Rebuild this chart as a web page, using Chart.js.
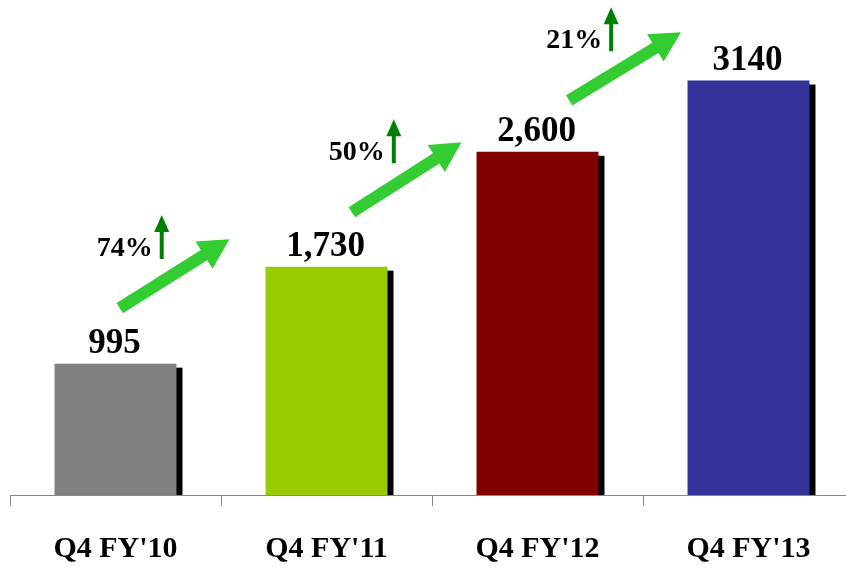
<!DOCTYPE html>
<html>
<head>
<meta charset="utf-8">
<script src="https://cdn.jsdelivr.net/npm/chart.js@4"></script>
<style>
  html, body { margin: 0; padding: 0; overflow: hidden; background: #fff; }
</style>
</head>
<body>
<canvas id="growthChart" width="854" height="592"></canvas>
<script>
// data
const quarters = ["Q4 FY'10", "Q4 FY'11", "Q4 FY'12", "Q4 FY'13"];
const values = [995, 1730, 2600, 3140];
const valueLabels = ['995', '1,730', '2,600', '3140'];
const growth = ['74%', '50%', '21%'];
const barColors = ['#808080', '#99cc00', '#800000', '#333399'];

// big green arrows, in (category index, value) space
const arrowTail = [[0.02, 1416], [1.12, 2142], [2.15, 2990]];
const arrowHead = [[0.54, 1938], [1.64, 2672], [2.68, 3505]];

const serif = '"Liberation Serif", "DejaVu Serif", serif';

// black drop shadow behind each bar
const barShadow = {
    id: 'barShadow',
    beforeDatasetsDraw(chart) {
        const c = chart.ctx;
        const bottom = chart.scales.y.getPixelForValue(0);
        c.save();
        c.fillStyle = '#000';
        chart.getDatasetMeta(0).data.forEach(bar => {
            const w = bar.width;
            c.fillRect(bar.x - w / 2 + 6, bar.y + 4, w, bottom - bar.y - 4);
        });
        c.restore();
    }
};

function xPos(chart, idx) {
    const xs = chart.scales.x;
    const step = xs.getPixelForValue(1) - xs.getPixelForValue(0);
    return xs.getPixelForValue(0) + idx * step;
}

function drawArrow(c, x1, y1, x2, y2, shaftHalf, headLen, headHalf) {
    const ang = Math.atan2(y2 - y1, x2 - x1);
    const len = Math.hypot(x2 - x1, y2 - y1);
    c.save();
    c.translate(x1, y1);
    c.rotate(ang);
    c.beginPath();
    c.moveTo(0, -shaftHalf);
    c.lineTo(len - headLen, -shaftHalf);
    c.lineTo(len - headLen, -headHalf);
    c.lineTo(len, 0);
    c.lineTo(len - headLen, headHalf);
    c.lineTo(len - headLen, shaftHalf);
    c.lineTo(0, shaftHalf);
    c.closePath();
    c.fill();
    c.restore();
}

// value labels, growth arrows and percentages
const annotations = {
    id: 'annotations',
    afterDatasetsDraw(chart) {
        const c = chart.ctx;
        const ys = chart.scales.y;
        c.save();
        c.fillStyle = '#000';
        c.font = 'bold 35px ' + serif;
        c.textAlign = 'center';
        c.textBaseline = 'alphabetic';
        chart.getDatasetMeta(0).data.forEach((bar, i) => {
            c.fillText(valueLabels[i], bar.x - 1, bar.y - 11);
        });

        growth.forEach((g, i) => {
            const tx = xPos(chart, arrowTail[i][0]);
            const ty = ys.getPixelForValue(arrowTail[i][1]);
            const hx = xPos(chart, arrowHead[i][0]);
            const hy = ys.getPixelForValue(arrowHead[i][1]);
            c.fillStyle = '#33cc33';
            drawArrow(c, tx, ty, hx, hy, 6, 30, 16);

            c.fillStyle = '#008000';
            drawArrow(c, tx + 42, ty - 49, tx + 42, ty - 93, 2, 17, 7.5);

            c.fillStyle = '#000';
            c.font = 'bold 28px ' + serif;
            c.textAlign = 'right';
            c.fillText(g, tx + 33, ty - 52);
        });
        c.restore();
    }
};

const ctx = document.getElementById('growthChart').getContext('2d');

const growthChart = new Chart(ctx, {
    type: 'bar',
    data: {
        labels: quarters,
        datasets: [{
            data: values,
            backgroundColor: barColors,
            borderWidth: 0,
            categoryPercentage: 1,
            barPercentage: 0.578
        }]
    },
    options: {
        responsive: false,
        animation: false,
        layout: { padding: { left: 10, right: 0, top: 0, bottom: 0 } },
        plugins: {
            legend: { display: false },
            tooltip: { enabled: false }
        },
        scales: {
            x: {
                border: { display: true, color: '#868686', width: 1 },
                grid: {
                    display: true,
                    offset: true,
                    drawOnChartArea: false,
                    drawTicks: true,
                    tickLength: 11,
                    color: '#868686'
                },
                ticks: {
                    color: '#000',
                    padding: 25,
                    font: { family: serif, size: 30, weight: 'bold' }
                }
            },
            y: {
                display: false,
                min: 0,
                max: 3750
            }
        }
    },
    plugins: [barShadow, annotations]
});
</script>
</body>
</html>
